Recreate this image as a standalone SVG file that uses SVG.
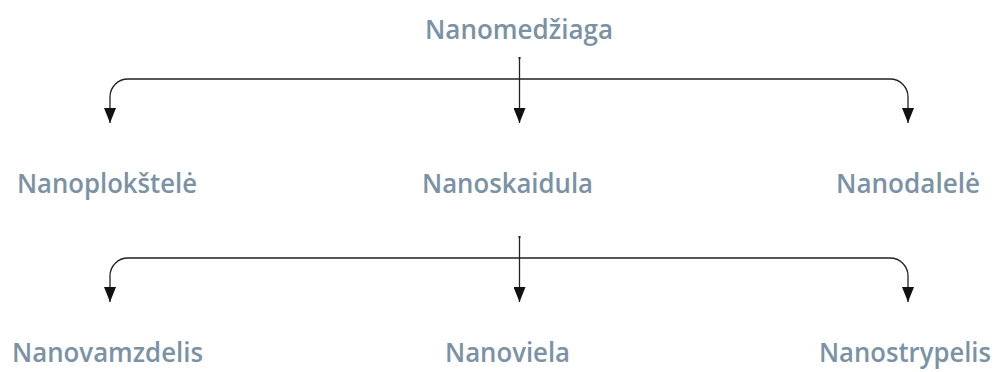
<svg xmlns="http://www.w3.org/2000/svg" width="1000" height="372" viewBox="0 0 1000 372">
  <defs>
    <marker id="arrow" markerUnits="userSpaceOnUse" markerWidth="15" markerHeight="12" refX="15" refY="6" orient="auto">
      <path d="M0,0 L15,6 L0,12 Z" fill="#111"/>
    </marker>
    <style>
      .label { font-family: "Open Sans", "Noto Sans", sans-serif; font-weight: 600; font-size: 27px; fill: #7b92a5; }
      .edge { fill: none; stroke: #222; stroke-width: 1.3; }
      .start { fill: #222; }
    </style>
  </defs>
  <rect width="1000" height="372" fill="#fff"/>

  <!-- tree connectors -->
  <g id="connectors">
    <rect class="start" x="518.5" y="57" width="2" height="2"/>
    <path class="edge" d="M519.5,58 V123" marker-end="url(#arrow)"/>
    <path class="edge" d="M519.5,79 H128 A18,18 0 0 0 110,97 V123" marker-end="url(#arrow)"/>
    <path class="edge" d="M519.5,79 H890 A18,18 0 0 1 908,97 V123" marker-end="url(#arrow)"/>

    <rect class="start" x="518.5" y="236" width="2" height="2"/>
    <path class="edge" d="M519.5,237 V302" marker-end="url(#arrow)"/>
    <path class="edge" d="M519.5,258 H128 A18,18 0 0 0 110,276 V302" marker-end="url(#arrow)"/>
    <path class="edge" d="M519.5,258 H890 A18,18 0 0 1 908,276 V302" marker-end="url(#arrow)"/>
  </g>

  <!-- root -->
  <g id="nanomedziaga">
    <text class="label" x="425" y="39" textLength="188" lengthAdjust="spacingAndGlyphs">Nanomedžiaga</text>
  </g>

  <!-- second level -->
  <g id="nanoplokstele">
    <text class="label" x="17" y="193" textLength="180" lengthAdjust="spacingAndGlyphs">Nanoplokštelė</text>
  </g>
  <g id="nanoskaidula">
    <text class="label" x="422" y="193" textLength="171" lengthAdjust="spacingAndGlyphs">Nanoskaidula</text>
  </g>
  <g id="nanodalele">
    <text class="label" x="836" y="193" textLength="144" lengthAdjust="spacingAndGlyphs">Nanodalelė</text>
  </g>

  <!-- third level -->
  <g id="nanovamzdelis">
    <text class="label" x="12" y="362" textLength="191" lengthAdjust="spacingAndGlyphs">Nanovamzdelis</text>
  </g>
  <g id="nanoviela">
    <text class="label" x="445" y="362" textLength="125" lengthAdjust="spacingAndGlyphs">Nanoviela</text>
  </g>
  <g id="nanostrypelis">
    <text class="label" x="819" y="362" textLength="172" lengthAdjust="spacingAndGlyphs">Nanostrypelis</text>
  </g>
</svg>
